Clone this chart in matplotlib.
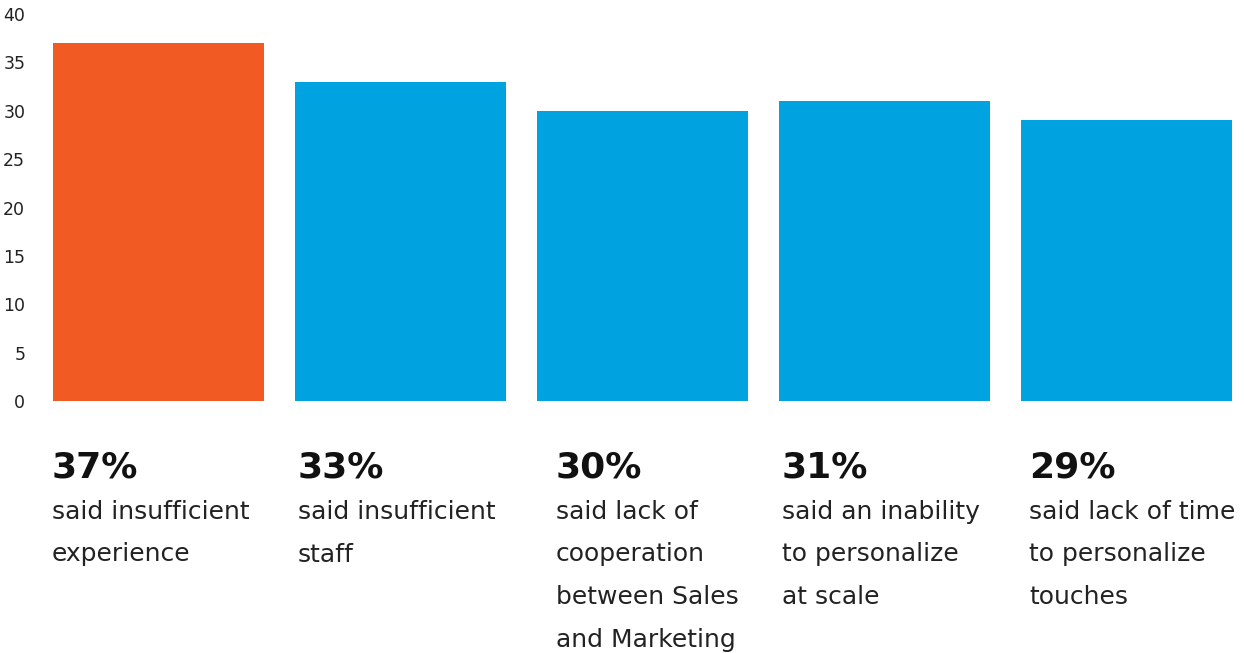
import matplotlib.pyplot as plt
import matplotlib.transforms as mtransforms

plt.rcParams['font.family'] = ['DejaVu Sans']

values = [37, 33, 30, 31, 29]
pct_labels = ["37%", "33%", "30%", "31%", "29%"]
descriptions = [
    ["said insufficient", "experience"],
    ["said insufficient", "staff"],
    ["said lack of", "cooperation", "between Sales", "and Marketing"],
    ["said an inability", "to personalize", "at scale"],
    ["said lack of time", "to personalize", "touches"],
]
colors = ["#F15A22", "#00A3E0", "#00A3E0", "#00A3E0", "#00A3E0"]
yticks = [0, 5, 10, 15, 20, 25, 30, 35, 40]

# horizontal nudge (pixels) of each text block from its bar's left edge
text_dx = [-1, 3, 19, 3, 8]

fig = plt.figure(figsize=(12.44, 6.53), dpi=100)
ax = fig.add_axes([53 / 1244, 252 / 653, 1179 / 1244, 387 / 653])

bar_w = 0.872
x = list(range(len(values)))
ax.bar(x, values, width=bar_w, color=colors)

ax.set_xlim(-bar_w / 2, len(values) - 1 + bar_w / 2)
ax.set_ylim(0, 40)
ax.set_yticks(yticks)
ax.set_xticks([])
ax.tick_params(axis='y', length=0, pad=20, labelsize=12.5, labelcolor='#222222')
for s in ax.spines.values():
    s.set_visible(False)

trans = mtransforms.blended_transform_factory(ax.transData, ax.transAxes)
for i in x:
    left = i - bar_w / 2
    ax.annotate(pct_labels[i], xy=(left, 0), xycoords=trans,
                xytext=(text_dx[i], -76), textcoords='offset pixels',
                ha='left', va='baseline', fontsize=26, fontweight='bold',
                color='#111111', annotation_clip=False)
    for j, line in enumerate(descriptions[i]):
        ax.annotate(line, xy=(left, 0), xycoords=trans,
                    xytext=(text_dx[i], -118 - 42.5 * j), textcoords='offset pixels',
                    ha='left', va='baseline', fontsize=18,
                    color='#222222', annotation_clip=False)

fig.savefig("out.png", dpi=100)
